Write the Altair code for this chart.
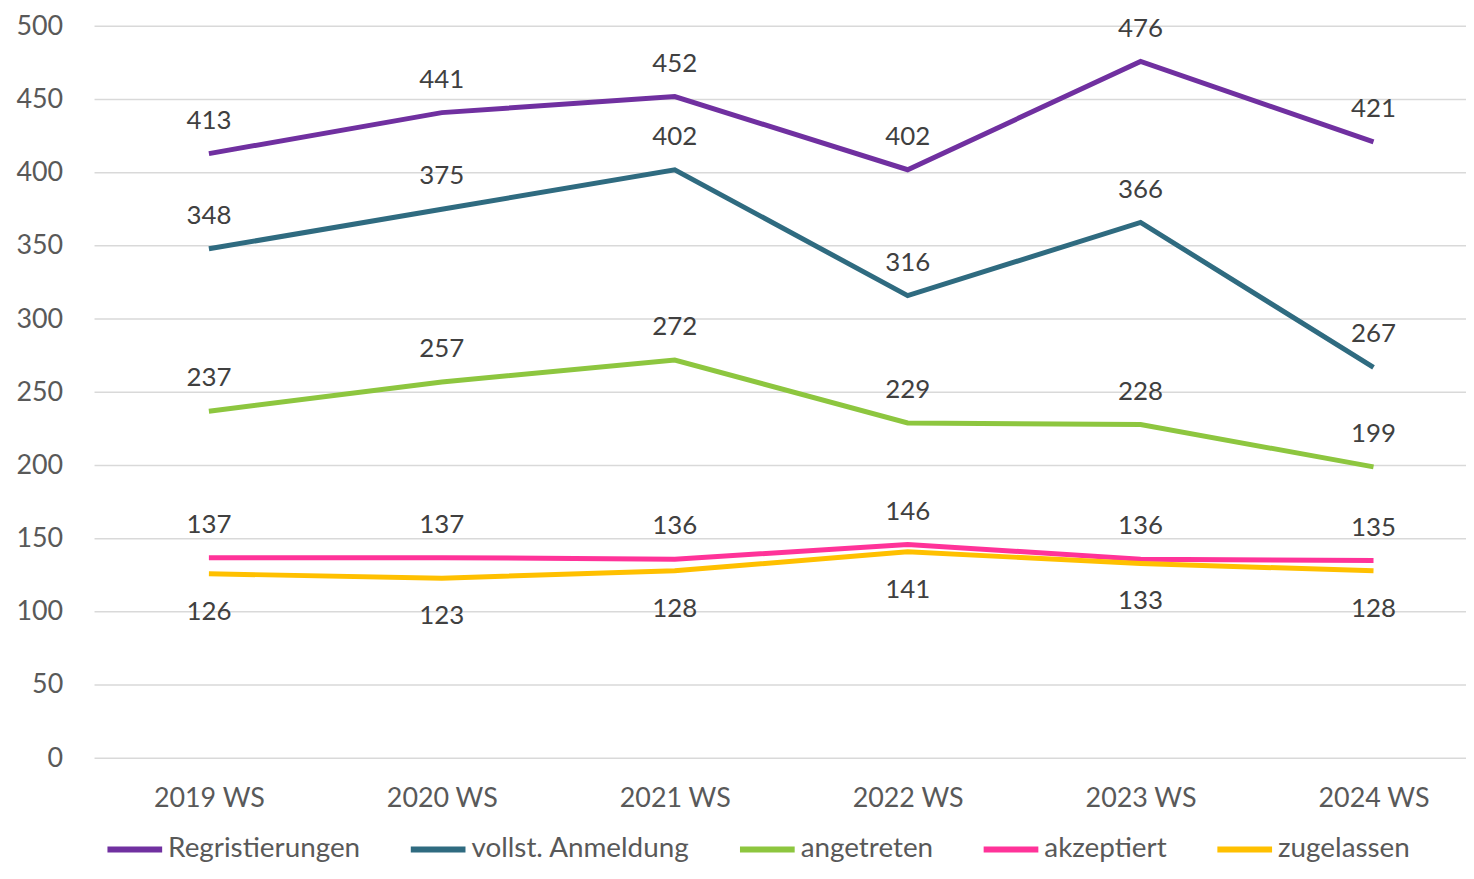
import altair as alt
import pandas as pd

years = ["2019 WS", "2020 WS", "2021 WS", "2022 WS", "2023 WS", "2024 WS"]
series = ["Regristierungen", "vollst. Anmeldung", "angetreten", "akzeptiert", "zugelassen"]
registrierungen = [413, 441, 452, 402, 476, 421]
anmeldung = [348, 375, 402, 316, 366, 267]
angetreten = [237, 257, 272, 229, 228, 199]
akzeptiert = [137, 137, 136, 146, 136, 135]
zugelassen = [126, 123, 128, 141, 133, 128]
colors = ["#7030A0", "#2F6B80", "#8DC63F", "#FF3399", "#FFC000"]
y_ticks = [0, 50, 100, 150, 200, 250, 300, 350, 400, 450, 500]

rows = []
for name, vals in zip(series, [registrierungen, anmeldung, angetreten, akzeptiert, zugelassen]):
    for y, v in zip(years, vals):
        rows.append({"Jahr": y, "Serie": name, "Wert": v})
df = pd.DataFrame(rows)
grid_df = pd.DataFrame({"Wert": y_ticks})

FONT = "Lato"
W, H = 1379, 736
xscale = alt.Scale(type="point", padding=0, range=[115, 1286])
yscale = alt.Scale(domain=[0, 500], nice=False)

x = alt.X("Jahr:N", sort=years, scale=xscale,
          axis=alt.Axis(title=None, labelAngle=0, labelFontSize=27, labelColor="#595959",
                        labelFont=FONT, labelPadding=28, ticks=False, domain=False, grid=False))
y = alt.Y("Wert:Q", scale=yscale,
          axis=alt.Axis(title=None, values=y_ticks, labelFontSize=27, labelColor="#595959",
                        labelFont=FONT, labelPadding=32, ticks=False, domain=False, grid=False))

color = alt.Color("Serie:N", scale=alt.Scale(domain=series, range=colors),
                  legend=alt.Legend(title=None, orient="none", legendX=10, legendY=797,
                                    direction="horizontal", columns=5, symbolType="stroke",
                                    symbolSize=3025, symbolStrokeWidth=6, labelFontSize=28,
                                    labelFont=FONT, labelColor="#595959", labelOffset=3,
                                    columnPadding=38, labelLimit=400))

grid = alt.Chart(grid_df).mark_rule(color="#D9D9D9", strokeWidth=1.5).encode(
    y=alt.Y("Wert:Q", scale=yscale), x=alt.value(0), x2=alt.value(W))

base = alt.Chart(df)
lines = base.mark_line(strokeWidth=5).encode(x=x, y=y, color=color)

xt = alt.X("Jahr:N", sort=years, scale=xscale)

labels_above = base.transform_filter(alt.datum.Serie != "zugelassen").mark_text(
    dy=-33, fontSize=26, font=FONT, color="#404040").encode(
    x=xt, y="Wert:Q", text="Wert:Q")

labels_below = base.transform_filter(alt.datum.Serie == "zugelassen").mark_text(
    dy=38, fontSize=26, font=FONT, color="#404040").encode(
    x=xt, y="Wert:Q", text="Wert:Q")

chart = alt.layer(grid, lines, labels_above, labels_below).properties(
    width=W, height=H,
    padding={"left": 87, "top": 16, "right": 0, "bottom": 107},
    autosize=alt.AutoSizeParams(type="none"),
    background="white",
).configure_view(stroke=None)

chart.save("out.html", embed_options={"renderer": "svg", "actions": False})
